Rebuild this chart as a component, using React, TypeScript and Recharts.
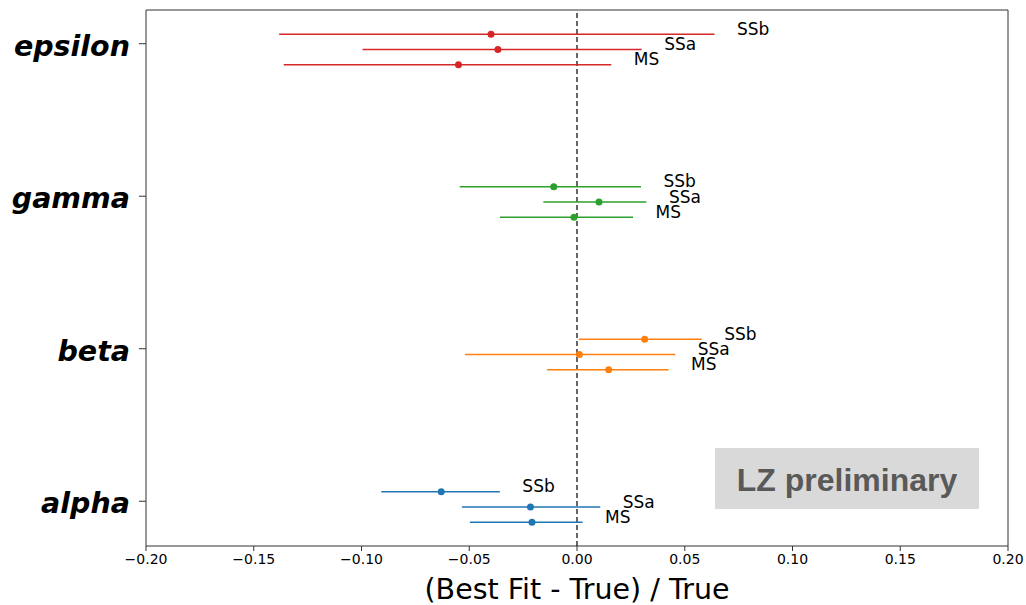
import React from "react";
import {
  ScatterChart,
  Scatter,
  XAxis,
  YAxis,
  ErrorBar,
  ReferenceLine,
} from "recharts";

// parameters, bottom to top
const params = ["alpha", "beta", "gamma", "epsilon"];
const paramColors = ["#1f77b4", "#ff7f0e", "#2ca02c", "#d62728"];

// fit methods, drawn top to bottom inside each parameter row
const methods = ["SSb", "SSa", "MS"];
const methodOffset = [0.062, -0.038, -0.138];

// (best fit - true) / true, with lower and upper bounds, order SSb, SSa, MS
const alphaBest = [-0.063, -0.0216, -0.0209];
const alphaLow = [-0.0908, -0.0534, -0.0497];
const alphaHigh = [-0.0358, 0.0108, 0.0026];

const betaBest = [0.0314, 0.0011, 0.0147];
const betaLow = [0.0008, -0.052, -0.0139];
const betaHigh = [0.0579, 0.0456, 0.0425];

const gammaBest = [-0.0108, 0.0102, -0.0014];
const gammaLow = [-0.0544, -0.0156, -0.0358];
const gammaHigh = [0.0297, 0.0322, 0.026];

const epsilonBest = [-0.0399, -0.0367, -0.055];
const epsilonLow = [-0.1382, -0.0995, -0.1361];
const epsilonHigh = [0.0638, 0.03, 0.0159];

const xTicks = [-0.2, -0.15, -0.1, -0.05, 0, 0.05, 0.1, 0.15, 0.2];
const yTicks = [0, 1, 2, 3];
const xDomain = [-0.2, 0.2];
const yDomain = [-0.2935, 3.221];

const best = [alphaBest, betaBest, gammaBest, epsilonBest];
const low = [alphaLow, betaLow, gammaLow, epsilonLow];
const high = [alphaHigh, betaHigh, gammaHigh, epsilonHigh];

const FONT = "'DejaVu Sans', sans-serif";
const FRAME = "#333";

function pointsFor(pi: number) {
  return methods.map((m, mi) => ({
    x: best[pi][mi],
    y: pi + methodOffset[mi],
    err: [best[pi][mi] - low[pi][mi], high[pi][mi] - best[pi][mi]],
    method: m,
  }));
}

// label anchors sit at the upper end of each interval
const labelPoints = params.flatMap((_, pi) =>
  methods.map((m, mi) => ({
    x: high[pi][mi],
    y: pi + methodOffset[mi],
    method: m,
  }))
);

const fmtX = (v: number) => v.toFixed(2).replace("-", "\u2212");

export default function App() {
  return (
    <div
      style={{
        position: "absolute",
        left: 0,
        top: 0,
        width: 1026,
        height: 605,
        background: "#fff",
      }}
    >
      <ScatterChart
        width={1026}
        height={605}
        margin={{ top: 10, right: 18, bottom: 0, left: 0 }}
      >
        <XAxis
          type="number"
          dataKey="x"
          domain={xDomain}
          ticks={xTicks}
          allowDataOverflow
          tickFormatter={fmtX}
          height={59}
          tickSize={5}
          tickMargin={3}
          stroke={FRAME}
          tick={{ fill: "#000", fontSize: 14, fontFamily: FONT }}
          label={{
            value: "(Best Fit - True) / True",
            position: "insideBottom",
            offset: 6,
            style: { fill: "#000", fontSize: 28.5, fontFamily: FONT },
          }}
        />
        <YAxis
          type="number"
          dataKey="y"
          domain={yDomain}
          ticks={yTicks}
          allowDataOverflow
          width={146}
          tickSize={7}
          tickMargin={9}
          stroke={FRAME}
          tickFormatter={(v: number) => params[v] ?? ""}
          tick={{
            fill: "#000",
            fontSize: 28.5,
            fontFamily: FONT,
            fontWeight: "bold",
            fontStyle: "italic",
            dy: 2,
          }}
        />
        {/* top and right spines */}
        <ReferenceLine y={yDomain[1]} stroke={FRAME} strokeWidth={1} />
        <ReferenceLine x={xDomain[1]} stroke={FRAME} strokeWidth={1} />
        <ReferenceLine x={0} stroke="#000" strokeWidth={1.2} strokeDasharray="5 3" />
        {params.map((p, pi) => (
          <Scatter
            key={p}
            name={p}
            data={pointsFor(pi)}
            isAnimationActive={false}
            shape={(props: any) => (
              <circle cx={props.cx} cy={props.cy} r={3.5} fill={paramColors[pi]} />
            )}
          >
            <ErrorBar
              dataKey="err"
              direction="x"
              width={0}
              stroke={paramColors[pi]}
              strokeWidth={1.6}
              isAnimationActive={false}
            />
          </Scatter>
        ))}
        <Scatter
          name="labels"
          data={labelPoints}
          isAnimationActive={false}
          shape={(props: any) => (
            <text
              x={props.cx + 22.5}
              y={props.cy + 0.5}
              fontSize={17}
              fontFamily={FONT}
              fill="#000"
            >
              {props.payload.method}
            </text>
          )}
        />
      </ScatterChart>
      <svg
        width={1026}
        height={605}
        style={{ position: "absolute", left: 0, top: 0, pointerEvents: "none" }}
      >
        <rect x={715} y={448} width={264} height={61} fill="#d9d9d9" />
        <text
          x={847}
          y={491}
          textAnchor="middle"
          fontSize={32}
          fontWeight="bold"
          fontFamily="'Liberation Sans', Arial, sans-serif"
          fill="#595959"
        >
          LZ preliminary
        </text>
      </svg>
    </div>
  );
}
